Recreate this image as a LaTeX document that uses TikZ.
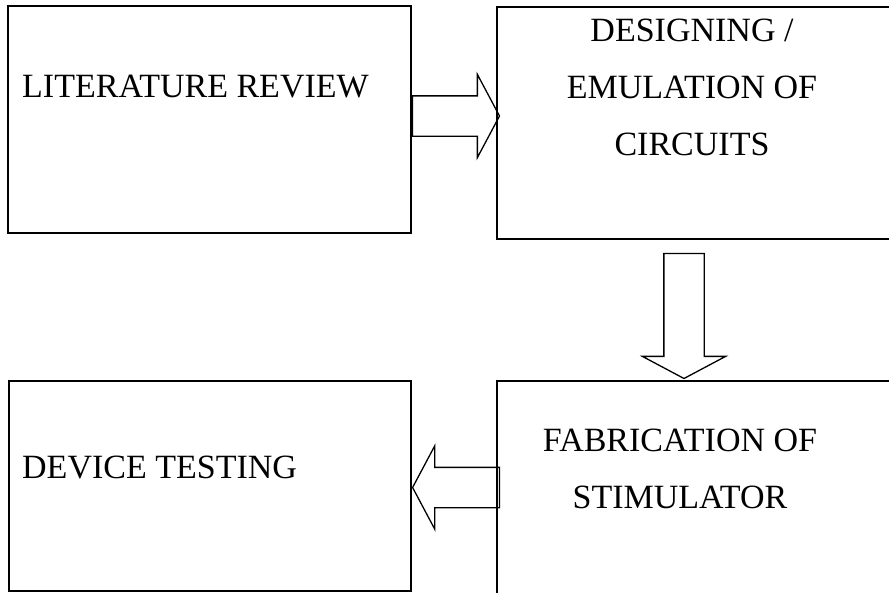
\documentclass[tikz,border=0pt]{standalone}
\usepackage{fontspec}
\setmainfont{Liberation Serif}
\usetikzlibrary{shapes.arrows}
\tikzset{
  stage/.style={draw, rectangle, line width=1.7pt, inner sep=0pt},
  stagetext/.style={font=\fontsize{34}{57}\selectfont, align=center, inner sep=0pt},
  blockarrow/.style={draw, line width=1.3pt, single arrow, inner sep=19.5pt,
    single arrow head extend=21.5pt, single arrow tip angle=124}
}
\begin{document}
\begin{tikzpicture}[x=1pt,y=-1pt]
   \useasboundingbox (0,0) rectangle (889,592);
   % Stages
   \node[stage, minimum width=403pt, minimum height=227pt] (lit)    at (209.5,119.5) {};
   \node[stage, minimum width=398pt, minimum height=232pt] (design) at (696,123) {};
   \node[stage, minimum width=402pt, minimum height=210pt] (test)   at (210,486) {};
   \node[stage, minimum width=398pt, minimum height=222pt] (fab)    at (696,492) {};
   % Labels
   \node[stagetext, anchor=west] (littext)  at (22,87)    {LITERATURE REVIEW};
   \node[stagetext] (designtext)             at (692,87.5) {DESIGNING /\\EMULATION OF\\CIRCUITS};
   \node[stagetext, anchor=west] (testtext) at (22,467)   {DEVICE TESTING};
   \node[stagetext] (fabtext)                at (680,468.5) {FABRICATION OF\\STIMULATOR};
   % Block arrows between stages
   \node[blockarrow, minimum height=87pt, anchor=tail] (toDesign) at ([yshift=3.5pt]lit.east) {};
   \node[blockarrow, minimum height=125pt, shape border rotate=270, anchor=tail] (toFab) at ([xshift=-12pt,yshift=-13pt]design.south) {};
   \node[blockarrow, minimum height=87pt, shape border rotate=180, anchor=tip] (toTest) at ([yshift=-1.5pt]test.east) {};
\end{tikzpicture}
\end{document}
